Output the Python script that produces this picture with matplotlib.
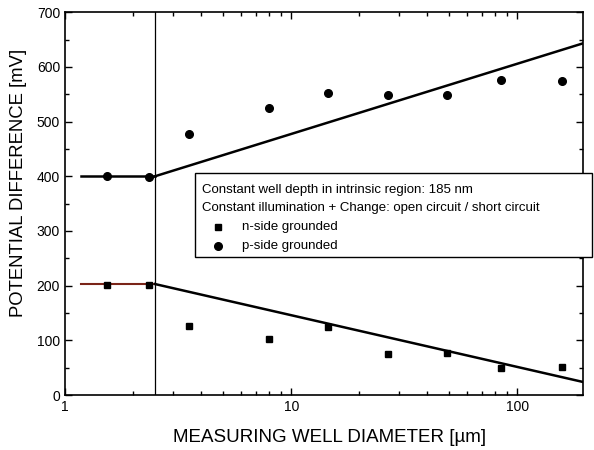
import matplotlib
matplotlib.use('Agg')
import matplotlib.pyplot as plt
from matplotlib.patches import Rectangle
from matplotlib.ticker import FixedLocator, NullFormatter, MultipleLocator

plt.rcParams['font.family'] = ['Liberation Sans', 'DejaVu Sans']

# measured points
diam = [1.53, 2.35, 3.55, 7.95, 14.6, 26.8, 48.7, 85.0, 158.0]
p_side = [400, 398, 477, 524, 552, 548, 548, 576, 574]
n_side = [202, 202, 126, 102, 124, 75, 77, 49, 51]

# model lines
flat_x = [1.18, 2.5]
p_flat = [400, 400]
n_flat = [203, 203]
slope_x = [2.5, 195]
p_slope = [400, 643]
n_slope = [203, 24]
x_split = 2.5

fig = plt.figure(figsize=(5.94, 4.5), dpi=100)
ax = fig.add_axes([0.1094, 0.122, 0.8721, 0.851])

ax.plot(flat_x, p_flat, color='black', lw=1.8)
ax.plot(slope_x, p_slope, color='black', lw=1.8)
ax.plot(flat_x, n_flat, color='#7a2418', lw=1.5)
ax.plot(slope_x, n_slope, color='black', lw=1.8)
ax.axvline(x_split, color='black', lw=0.9)

ax.plot(diam, p_side, 'o', color='black', ms=5.5, ls='none', zorder=5)
ax.plot(diam, n_side, 's', color='black', ms=5, ls='none', zorder=5)

ax.set_xscale('log')
ax.set_xlim(1, 195)
ax.set_ylim(0, 700)
ax.set_xticks([1, 10, 100])
ax.set_xticklabels(['1', '10', '100'])
ax.xaxis.set_minor_locator(FixedLocator([2, 3, 4, 5, 6, 7, 8, 9, 20, 30, 40, 50, 60, 70, 80, 90]))
ax.xaxis.set_minor_formatter(NullFormatter())
ax.yaxis.set_major_locator(MultipleLocator(100))
ax.yaxis.set_minor_locator(MultipleLocator(50))

ax.tick_params(which='both', direction='in', top=True, right=True, labelsize=10, width=1)
ax.tick_params(which='major', length=5)
ax.tick_params(which='minor', length=3)
for s in ax.spines.values():
    s.set_linewidth(1.2)

xl = ax.set_xlabel('MEASURING WELL DIAMETER [µm]', fontsize=13.5)
yl = ax.set_ylabel('POTENTIAL DIFFERENCE [mV]', fontsize=13.3)
ax.xaxis.set_label_coords(0.51, -0.11)
ax.yaxis.set_label_coords(-0.089, 0.553)
xl.set_va('center')
yl.set_va('center')

# legend box
box = Rectangle((0.251, 0.36), 0.766, 0.22, transform=ax.transAxes, facecolor='white',
                edgecolor='black', lw=1, clip_on=False, zorder=6)
ax.add_patch(box)
ax.text(0.264, 0.535, 'Constant well depth in intrinsic region: 185 nm', transform=ax.transAxes,
        fontsize=9.5, va='center', zorder=7)
ax.text(0.264, 0.488, 'Constant illumination + Change: open circuit / short circuit',
        transform=ax.transAxes, fontsize=9.5, va='center', zorder=7)
ax.plot([0.295], [0.439], 's', color='black', ms=5, transform=ax.transAxes, clip_on=False, zorder=7)
ax.plot([0.295], [0.389], 'o', color='black', ms=5.5, transform=ax.transAxes, clip_on=False, zorder=7)
ax.text(0.342, 0.439, 'n-side grounded', transform=ax.transAxes, fontsize=9.5, va='center', zorder=7)
ax.text(0.342, 0.389, 'p-side grounded', transform=ax.transAxes, fontsize=9.5, va='center', zorder=7)

fig.savefig('out.png', dpi=100)
